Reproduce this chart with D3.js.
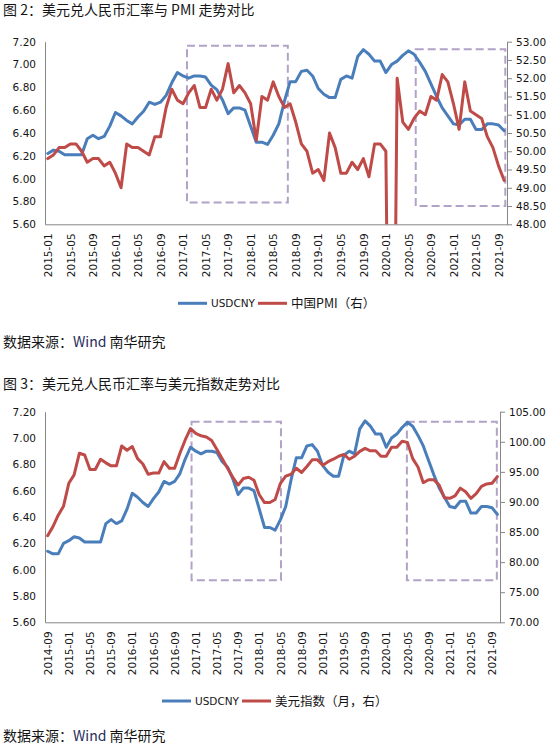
<!DOCTYPE html>
<html>
<head>
<meta charset="utf-8">
<script src="https://cdn.jsdelivr.net/npm/d3@7"></script>
<style>
  body { margin: 0; background: #fff; }
  svg text { font-family: "DejaVu Sans", Verdana, sans-serif; fill: #151515; }
  svg .cjk { font-family: "Noto Sans CJK SC", sans-serif; }
</style>
</head>
<body>
<svg id="chart" width="549" height="746"></svg>
<script>
// monthly series, 2014-09 .. 2021-10
var usdcny = [6.14, 6.12, 6.12, 6.20,
  6.22, 6.25, 6.24, 6.21, 6.21, 6.21, 6.21, 6.35, 6.38, 6.35, 6.37, 6.46,
  6.58, 6.55, 6.51, 6.48, 6.54, 6.59, 6.67, 6.65, 6.67, 6.73, 6.84, 6.93,
  6.90, 6.88, 6.90, 6.90, 6.89, 6.82, 6.78, 6.69, 6.57, 6.62, 6.62, 6.60,
  6.46, 6.32, 6.32, 6.30, 6.38, 6.48, 6.68, 6.85, 6.85, 6.94, 6.95, 6.90,
  6.79, 6.74, 6.71, 6.71, 6.87, 6.90, 6.88, 7.07, 7.13, 7.09, 7.03, 7.03,
  6.93, 7.00, 7.03, 7.08, 7.12, 7.09, 7.02, 6.94, 6.83, 6.72, 6.62, 6.55,
  6.48, 6.47, 6.52, 6.52, 6.43, 6.43, 6.48, 6.48, 6.47, 6.42];

var dxy = [84.4, 85.9, 87.8, 89.3,
  93.1, 94.5, 98.1, 97.8, 95.4, 95.4, 97.1, 96.5, 96.0, 96.0, 99.3, 98.6,
  99.2, 97.2, 96.3, 94.6, 94.8, 94.8, 96.7, 95.6, 95.6, 98.1, 100.3, 102.2,
  101.4, 101.0, 100.8, 100.2, 98.7, 97.2, 95.6, 94.1, 92.8, 93.9, 94.1, 93.6,
  91.2, 89.9, 89.9, 90.4, 93.1, 94.3, 94.6, 95.6, 94.9, 95.9, 97.0, 97.0,
  96.1, 96.7, 97.1, 97.6, 97.9, 97.1, 97.6, 98.4, 98.9, 98.5, 98.5, 97.6,
  97.6, 99.1, 99.1, 100.1, 99.9, 97.2, 95.8, 93.2, 93.7, 93.7, 92.8, 90.7,
  90.6, 91.0, 92.3, 91.7, 90.6, 91.4, 92.6, 93.0, 93.1, 94.2];

// China PMI, 2015-01 .. 2021-10
var pmi = [49.8, 49.9, 50.1, 50.1, 50.2, 50.2, 50.0, 49.7, 49.8, 49.8, 49.6, 49.7,
  49.4, 49.0, 50.2, 50.1, 50.1, 50.0, 49.9, 50.4, 50.4, 51.2, 51.7, 51.4,
  51.3, 51.6, 51.8, 51.2, 51.2, 51.7, 51.4, 51.7, 52.4, 51.6, 51.8, 51.6,
  51.3, 50.3, 51.5, 51.4, 51.9, 51.5, 51.2, 51.3, 50.8, 50.2, 50.0, 49.4,
  49.5, 49.2, 50.5, 50.1, 49.4, 49.4, 49.7, 49.5, 49.8, 49.3, 50.2, 50.2,
  50.0, 35.7, 52.0, 50.8, 50.6, 50.9, 51.1, 51.0, 51.5, 51.4, 52.1, 51.9,
  51.3, 50.6, 51.9, 51.1, 51.0, 50.9, 50.4, 50.1, 49.6, 49.2];

var ticks1 = ["2015-01","2015-05","2015-09","2016-01","2016-05","2016-09","2017-01",
  "2017-05","2017-09","2018-01","2018-05","2018-09","2019-01","2019-05","2019-09",
  "2020-01","2020-05","2020-09","2021-01","2021-05","2021-09"];
var ticks2 = ["2014-09"].concat(ticks1);

var leftTicks = [5.6, 5.8, 6.0, 6.2, 6.4, 6.6, 6.8, 7.0, 7.2];
var pmiTicks = [48, 48.5, 49, 49.5, 50, 50.5, 51, 51.5, 52, 52.5, 53];
var dxyTicks = [70, 75, 80, 85, 90, 95, 100, 105];

// dashed highlight boxes: month offsets from chart start, left-axis values
var boxes1 = [[24.7, 42.6, 7.165, 5.79], [65.3, 81.2, 7.133, 5.76]];
var boxes2 = [[27.2, 44.1, 7.124, 5.92], [67.9, 84.9, 7.124, 5.92]];

var fmtMonth = d3.timeFormat("%Y-%m");
var allMonths = d3.timeMonth.range(new Date(2014, 8, 1), new Date(2021, 10, 1)).map(fmtMonth);
var months1 = allMonths.slice(4);

var BLUE = "#4A7EBB", RED = "#BE4B48", AXIS = "#868686", BOX = "#B3A2C7";
var svg = d3.select("#chart");

function drawChart(o) {
  var g = svg.append("g");
  var x = d3.scalePoint().domain(o.months).range([o.left, o.right]).padding(0.5);
  var xf = function (i) { return x(o.months[0]) + i * x.step(); };
  var yL = d3.scaleLinear().domain([5.6, 7.2]).range([o.bottom, o.top]);
  var yR = d3.scaleLinear().domain(o.rDomain).range([o.bottom, o.top]);

  var clipId = "clip" + o.id;
  g.append("clipPath").attr("id", clipId).append("rect")
    .attr("x", o.left).attr("y", o.top)
    .attr("width", o.right - o.left).attr("height", o.bottom - o.top);

  // title
  g.append("text").attr("class", "cjk").attr("x", 3).attr("y", o.titleY)
    .style("font-size", "14px").text(o.title);

  // axes
  var ax = g.append("g").attr("transform", "translate(0," + o.bottom + ")")
    .call(d3.axisBottom(x).tickValues(o.ticks).tickSize(0).tickSizeOuter(0));
  ax.selectAll("text").attr("y", 0).attr("x", -9).attr("dy", "0.35em")
    .attr("transform", "rotate(-90)").style("text-anchor", "end");

  g.append("g").attr("transform", "translate(" + o.left + ",0)")
    .call(d3.axisLeft(yL).tickValues(leftTicks).tickFormat(d3.format(".2f"))
      .tickSize(0).tickSizeOuter(0).tickPadding(9));

  g.append("g").attr("transform", "translate(" + o.right + ",0)")
    .call(d3.axisRight(yR).tickValues(o.rTicks).tickFormat(d3.format(".2f"))
      .tickSize(5).tickSizeOuter(0).tickPadding(4));

  g.selectAll(".domain, .tick line").attr("stroke", AXIS);
  g.selectAll(".tick text").style("font-size", "10.5px").attr("fill", "#151515")
    .style("font-family", "DejaVu Sans, sans-serif");

  // boxes
  g.selectAll("rect.box").data(o.boxes).enter().append("rect").attr("class", "box")
    .attr("x", function (b) { return xf(b[0]); })
    .attr("y", function (b) { return yL(b[2]); })
    .attr("width", function (b) { return xf(b[1]) - xf(b[0]); })
    .attr("height", function (b) { return yL(b[3]) - yL(b[2]); })
    .attr("fill", "none").attr("stroke", BOX).attr("stroke-width", 2)
    .attr("stroke-dasharray", "8,4");

  // lines
  var plot = g.append("g").attr("clip-path", "url(#" + clipId + ")");
  var lineL = d3.line().x(function (d) { return x(d.m); }).y(function (d) { return yL(d.v); });
  var lineR = d3.line().x(function (d) { return x(d.m); }).y(function (d) { return yR(d.v); });
  plot.append("path").datum(o.leftData).attr("d", lineL)
    .attr("fill", "none").attr("stroke", BLUE).attr("stroke-width", 3)
    .attr("stroke-linejoin", "round").attr("stroke-linecap", "round");
  plot.append("path").datum(o.rightData).attr("d", lineR)
    .attr("fill", "none").attr("stroke", RED).attr("stroke-width", 3)
    .attr("stroke-linejoin", "round").attr("stroke-linecap", "round");

  // legend
  var lg = g.append("g");
  lg.append("line").attr("x1", o.lgX).attr("x2", o.lgX + 29)
    .attr("y1", o.lgY).attr("y2", o.lgY).attr("stroke", BLUE).attr("stroke-width", 3);
  lg.append("text").attr("x", o.lgX + 33).attr("y", o.lgY).attr("dy", "0.36em")
    .style("font-size", "10.5px").text("USDCNY");
  lg.append("line").attr("x1", o.lgX + 80).attr("x2", o.lgX + 109)
    .attr("y1", o.lgY).attr("y2", o.lgY).attr("stroke", RED).attr("stroke-width", 3);
  lg.append("text").attr("class", "cjk").attr("x", o.lgX + 113).attr("y", o.lgY)
    .attr("dy", "0.36em").style("font-size", "12.5px").text(o.rName);

  // source
  var src = g.append("text").attr("class", "cjk").attr("x", 3).attr("y", o.srcY)
    .style("font-size", "14px");
  src.append("tspan").text("数据来源：");
  src.append("tspan").attr("fill", "#1F2D5A").text("Wind ");
  src.append("tspan").text(" 南华研究");
}

drawChart({
  id: 1, title: "图 2：美元兑人民币汇率与 PMI 走势对比", titleY: 15,
  left: 45, right: 507, top: 41.7, bottom: 224.3,
  months: months1, ticks: ticks1,
  rDomain: [48, 53], rTicks: pmiTicks,
  leftData: months1.map(function (m, i) { return { m: m, v: usdcny[i + 4] }; }),
  rightData: months1.map(function (m, i) { return { m: m, v: pmi[i] }; }),
  boxes: boxes1, rName: "中国PMI（右）", lgX: 178, lgY: 303.3, srcY: 346.5
});

drawChart({
  id: 2, title: "图 3：美元兑人民币汇率与美元指数走势对比", titleY: 388.5,
  left: 45, right: 500, top: 411.7, bottom: 622.3,
  months: allMonths, ticks: ticks2,
  rDomain: [70, 105], rTicks: dxyTicks,
  leftData: allMonths.map(function (m, i) { return { m: m, v: usdcny[i] }; }),
  rightData: allMonths.map(function (m, i) { return { m: m, v: dxy[i] }; }),
  boxes: boxes2, rName: "美元指数（月，右）", lgX: 162, lgY: 701, srcY: 741
});
</script>
</body>
</html>
